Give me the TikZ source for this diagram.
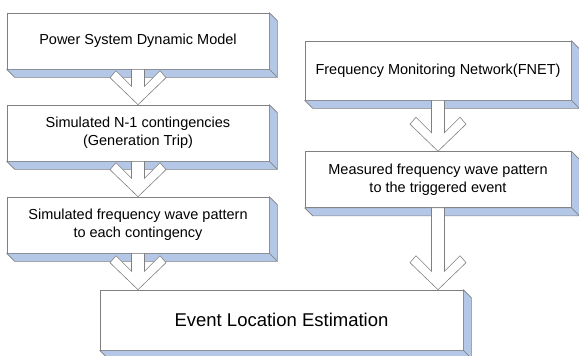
\documentclass[tikz,border=0pt]{standalone}
\usepackage{fontspec}
\setmainfont{Liberation Sans}
\usetikzlibrary{positioning,calc}
\definecolor{bevelblue}{RGB}{180,199,231}
\definecolor{edgegray}{RGB}{128,128,128}
\tikzset{
	stage/.style={draw=edgegray, line width=0.6pt, fill=white, minimum width=262pt, minimum height=56pt, inner sep=0pt, align=center, font=\fontsize{14.5}{18}\selectfont},
	bevelface/.style={draw=edgegray, line width=0.6pt, fill=bevelblue, line join=round},
	hollowarrow/.style={draw=edgegray, line width=0.6pt, fill=white}
}
% 3d edge below and right of a box
\newcommand{\bevel}[1]{%
	\filldraw[bevelface] (#1.north east) -- ++(8pt,-8pt) -- ($(#1.south east)+(8pt,-8pt)$) -- (#1.south east) -- cycle;
	\filldraw[bevelface] (#1.south west) -- ++(8pt,-8pt) -- ($(#1.south east)+(8pt,-8pt)$) -- (#1.south east) -- cycle;
}
% hollow arrow from #1 down to the tip #2
\newcommand{\blockarrow}[2]{%
	\filldraw[hollowarrow] let \p1=#1, \p2=#2 in
		(\x1-6.5pt,\y1) -- (\x1-6.5pt,\y2+18.5pt) -- (\x1-22pt,\y2+34pt) -- (\x1-28pt,\y2+27pt) -- (\x2,\y2)
		-- (\x1+28pt,\y2+27pt) -- (\x1+22pt,\y2+34pt) -- (\x1+6.5pt,\y2+18.5pt) -- (\x1+6.5pt,\y1) -- cycle;
}

\begin{document}
\begin{tikzpicture}[node distance=92pt, on grid]
				\useasboundingbox (0,0) rectangle (579pt,-356pt);
				\node[stage] (p_1) at (138pt,-41pt) {Power System Dynamic Model};
				\node[stage] (p_2) [below=of p_1] {Simulated N-1 contingencies\\(Generation Trip)};
				\node[stage] (p_3) [below=of p_2] {Simulated frequency wave pattern\\to each contingency};
				\node[stage, minimum width=266pt, minimum height=59pt] (f_1) [right=300pt of p_1, yshift=-29.5pt] {Frequency Monitoring Network(FNET)};
				\node[stage, minimum width=266pt] (f_2) [below=109pt of f_1] {Measured frequency wave pattern\\to the triggered event};
				\node[stage, minimum width=363pt, minimum height=60pt, font=\fontsize{18.5}{22}\selectfont] (e_1) [below=95pt of p_3, xshift=143.5pt] {Event Location Estimation};
				
				\bevel{p_1} \bevel{p_2} \bevel{p_3}
				\bevel{f_1} \bevel{f_2} \bevel{e_1}
				
				\blockarrow{(p_1.south)}{(p_2.north)}
				\blockarrow{(p_2.south)}{(p_3.north)}
				\blockarrow{(p_3.south)}{(p_3.south |- e_1.north)}
				\blockarrow{(f_1.south)}{(f_2.north)}
				\blockarrow{(f_2.south)}{(f_2.south |- e_1.north)}
			\end{tikzpicture}
\end{document}
